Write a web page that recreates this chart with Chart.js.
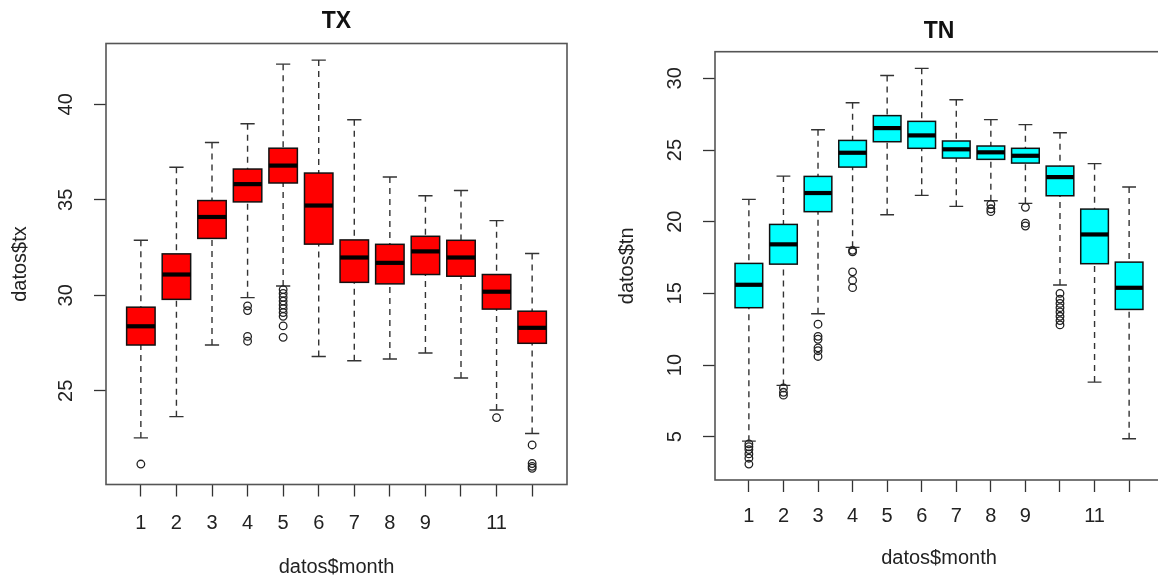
<!DOCTYPE html>
<html>
<head>
<meta charset="utf-8">
<script src="https://cdn.jsdelivr.net/npm/chart.js@4/dist/chart.umd.min.js"></script>
<style>
    html, body { margin: 0; padding: 0; background: #fff; overflow: hidden; }
    body { width: 1158px; height: 578px; position: relative; }
    .panel { position: absolute; top: 0; height: 578px; }
    #tx-panel { left: 0; width: 580px; }
    #tn-panel { left: 580px; width: 590px; }
</style>
</head>
<body>
<div class="panel" id="tx-panel"><canvas id="txChart" width="580" height="578"></canvas></div>
<div class="panel" id="tn-panel"><canvas id="tnChart" width="590" height="578"></canvas></div>
<script>
const months = [1, 2, 3, 4, 5, 6, 7, 8, 9, 10, 11, 12];
const monthLabels = ['1', '2', '3', '4', '5', '6', '7', '8', '9', '', '11', ''];

// TX: whisker ends, quartiles and median per month
const txLow = [22.54, 23.65, 27.40, 29.88, 30.49, 26.80, 26.58, 26.67, 26.98, 25.67, 24.00, 22.77];
const txQ1 = [27.40, 29.79, 32.98, 34.89, 35.88, 32.68, 30.68, 30.60, 31.09, 31.00, 29.28, 27.49];
const txMedian = [28.38, 31.09, 34.10, 35.82, 36.79, 34.70, 31.98, 31.70, 32.30, 31.98, 30.19, 28.30];
const txQ3 = [29.38, 32.17, 34.96, 36.61, 37.70, 36.40, 32.90, 32.67, 33.09, 32.88, 31.09, 29.17];
const txHigh = [32.88, 36.70, 38.00, 38.98, 42.10, 42.31, 39.19, 36.19, 35.21, 35.49, 33.91, 32.19];
const txOutliers = [[21.17], [], [], [29.45, 29.2, 27.85, 27.6],
    [30.3, 30.1, 29.9, 29.7, 29.5, 29.3, 29.1, 28.9, 28.4, 27.8],
    [], [], [], [], [], [23.6], [22.17, 21.2, 21.05, 20.95]];
const txTicks = [25, 30, 35, 40];

// TN
const tnLow = [4.69, 8.58, 13.58, 18.21, 20.49, 21.84, 21.07, 21.46, 21.28, 15.58, 8.81, 4.86];
const tnQ1 = [14.00, 17.04, 20.70, 23.81, 25.58, 25.12, 24.44, 24.35, 24.09, 21.81, 17.07, 13.88];
const tnMedian = [15.60, 18.42, 22.00, 24.81, 26.53, 26.02, 25.05, 24.84, 24.60, 23.11, 19.11, 15.39];
const tnQ3 = [17.09, 19.81, 23.16, 25.67, 27.40, 27.00, 25.63, 25.28, 25.12, 23.88, 20.88, 17.18];
const tnHigh = [21.56, 23.18, 26.42, 28.30, 30.20, 30.70, 28.51, 27.12, 26.77, 26.21, 24.05, 22.42];
const tnOutliers = [[4.5, 4.3, 4.1, 3.8, 3.5, 3.09], [8.4, 8.1, 7.9], [12.85, 12.0, 11.8, 11.2, 11.0, 10.6],
    [18.0, 17.9, 16.5, 15.9, 15.4], [], [], [], [21.2, 20.9, 20.7], [21.0, 19.9, 19.7],
    [15.0, 14.6, 14.3, 14.0, 13.7, 13.4, 13.1, 12.8], [], []];
const tnTicks = [5, 10, 15, 20, 25, 30];

Chart.defaults.font.family = '"Liberation Sans", Arial, sans-serif';
Chart.defaults.color = '#222';

// draws frame, whiskers, boxes and medians before the outlier points
const boxPlugin = {
    id: 'boxes',
    beforeDatasetsDraw(chart, args, opts) {
        const ctx = chart.ctx;
        const a = chart.chartArea;
        const x = chart.scales.x;
        const y = chart.scales.y;
        ctx.save();
        ctx.strokeStyle = '#555';
        ctx.lineWidth = 1.6;
        ctx.strokeRect(a.left, a.top, a.right - a.left, a.bottom - a.top);

        months.forEach((m, i) => {
            const cx = x.getPixelForValue(m);
            const hw = x.getPixelForValue(m + 0.4) - cx;
            const yLow = y.getPixelForValue(opts.low[i]);
            const yQ1 = y.getPixelForValue(opts.q1[i]);
            const yMed = y.getPixelForValue(opts.median[i]);
            const yQ3 = y.getPixelForValue(opts.q3[i]);
            const yHigh = y.getPixelForValue(opts.high[i]);

            // whiskers
            ctx.strokeStyle = '#333';
            ctx.lineWidth = 1.4;
            ctx.setLineDash([6, 5]);
            ctx.beginPath();
            ctx.moveTo(cx, yLow);
            ctx.lineTo(cx, yQ1);
            ctx.moveTo(cx, yHigh);
            ctx.lineTo(cx, yQ3);
            ctx.stroke();
            ctx.setLineDash([]);
            ctx.beginPath();
            ctx.moveTo(cx - hw / 2, yLow);
            ctx.lineTo(cx + hw / 2, yLow);
            ctx.moveTo(cx - hw / 2, yHigh);
            ctx.lineTo(cx + hw / 2, yHigh);
            ctx.stroke();

            // box
            ctx.fillStyle = opts.fill;
            ctx.fillRect(cx - hw, yQ3, hw * 2, yQ1 - yQ3);
            ctx.strokeStyle = '#111';
            ctx.lineWidth = 1.5;
            ctx.strokeRect(cx - hw, yQ3, hw * 2, yQ1 - yQ3);

            // median
            ctx.strokeStyle = '#000';
            ctx.lineWidth = 4.2;
            ctx.beginPath();
            ctx.moveTo(cx - hw, yMed);
            ctx.lineTo(cx + hw, yMed);
            ctx.stroke();
        });
        ctx.restore();
    }
};

function makeBoxChart(canvasId, s) {
    const canvas = document.getElementById(canvasId);
    if (!canvas) return;
    const points = [];
    months.forEach((m, i) => {
        s.outliers[i].forEach(v => points.push({ x: m, y: v }));
    });

    new Chart(canvas.getContext('2d'), {
        type: 'scatter',
        data: {
            datasets: [{
                label: 'outliers',
                data: points,
                pointStyle: 'circle',
                pointRadius: 3.8,
                pointBorderWidth: 1.3,
                borderColor: '#222',
                backgroundColor: 'rgba(0,0,0,0)'
            }]
        },
        options: {
            responsive: false,
            animation: false,
            layout: {
                padding: { left: 0, top: 0, bottom: 0, right: s.padRight }
            },
            scales: {
                x: {
                    type: 'linear',
                    min: 0.02,
                    max: 12.98,
                    afterBuildTicks: (scale) => {
                        scale.ticks = months.map(v => ({ value: v }));
                    },
                    afterFit: (scale) => {
                        scale.height = s.xAxisHeight;
                    },
                    ticks: {
                        autoSkip: false,
                        maxRotation: 0,
                        padding: s.xTickPad,
                        color: '#222',
                        font: { size: 20 },
                        callback: (value, index) => monthLabels[index]
                    },
                    grid: {
                        display: true,
                        drawOnChartArea: false,
                        drawTicks: true,
                        tickLength: 12,
                        tickColor: '#333',
                        tickWidth: 1.3
                    },
                    border: { display: false },
                    title: {
                        display: true,
                        text: 'datos$month',
                        color: '#222',
                        font: { size: 20, lineHeight: 1 },
                        padding: { top: 0, bottom: s.xTitlePad }
                    }
                },
                y: {
                    type: 'linear',
                    min: s.yMin,
                    max: s.yMax,
                    afterBuildTicks: (scale) => {
                        scale.ticks = s.yTicks.map(v => ({ value: v }));
                    },
                    afterFit: (scale) => {
                        scale.width = s.yAxisWidth;
                    },
                    ticks: {
                        minRotation: 90,
                        maxRotation: 90,
                        crossAlign: 'center',
                        padding: 16,
                        color: '#222',
                        font: { size: 20 }
                    },
                    grid: {
                        display: true,
                        drawOnChartArea: false,
                        drawTicks: true,
                        tickLength: 12,
                        tickColor: '#333',
                        tickWidth: 1.3
                    },
                    border: { display: false },
                    title: {
                        display: true,
                        text: s.yLabel,
                        color: '#222',
                        font: { size: 20 },
                        padding: { top: s.yTitlePad, bottom: 0 }
                    }
                }
            },
            plugins: {
                legend: { display: false },
                tooltip: { enabled: false },
                title: {
                    display: true,
                    fullSize: false,
                    text: s.title,
                    color: '#111',
                    font: { size: 23, weight: 'bold', lineHeight: 1.2 },
                    padding: { top: s.titleTop, bottom: s.titleBottom }
                },
                boxes: {
                    low: s.low,
                    q1: s.q1,
                    median: s.median,
                    q3: s.q3,
                    high: s.high,
                    fill: s.fill
                }
            }
        },
        plugins: [boxPlugin]
    });
}

document.addEventListener('DOMContentLoaded', function () {
    // TX panel
    makeBoxChart('txChart', {
        title: 'TX', yLabel: 'datos$tx', fill: '#ff0000',
        low: txLow, q1: txQ1, median: txMedian, q3: txQ3, high: txHigh, outliers: txOutliers,
        yTicks: txTicks, yMin: 20.1, yMax: 43.18,
        yAxisWidth: 106, xAxisHeight: 93.5, padRight: 13,
        titleTop: 7.5, titleBottom: 8.4, yTitlePad: 8, xTickPad: 15, xTitlePad: 1
    });

    // TN panel
    makeBoxChart('tnChart', {
        title: 'TN', yLabel: 'datos$tn', fill: '#00ffff',
        low: tnLow, q1: tnQ1, median: tnMedian, q3: tnQ3, high: tnHigh, outliers: tnOutliers,
        yTicks: tnTicks, yMin: 1.98, yMax: 31.86,
        yAxisWidth: 135, xAxisHeight: 98, padRight: 7,
        titleTop: 17.5, titleBottom: 6.6, yTitlePad: 35.5, xTickPad: 12, xTitlePad: 10
    });
});
</script>
</body>
</html>
